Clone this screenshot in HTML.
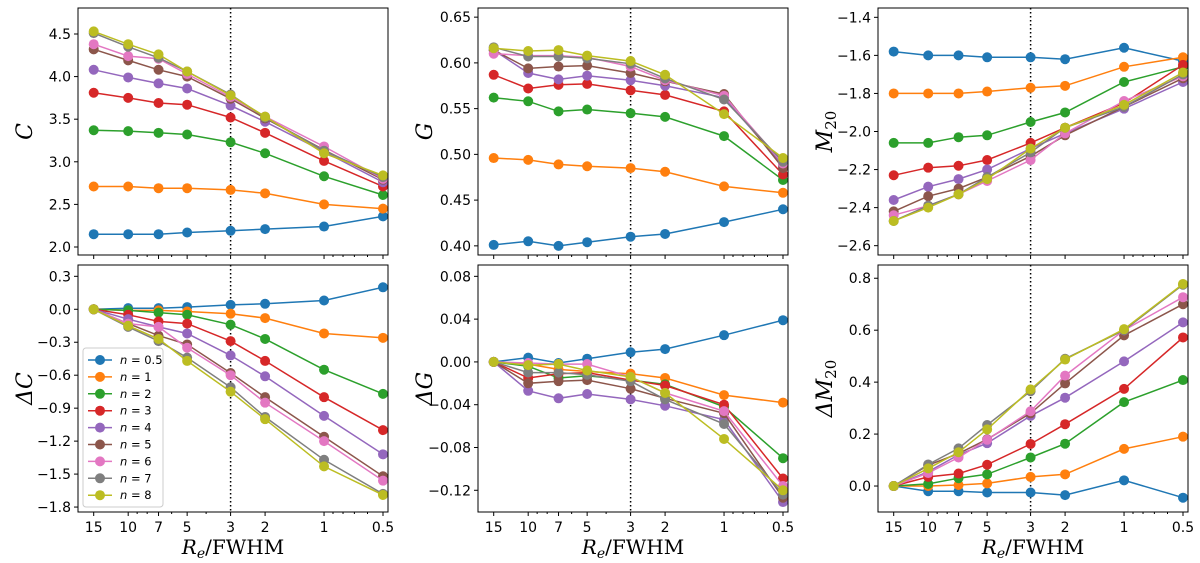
<!DOCTYPE html>
<html><head><meta charset="utf-8"><style>
body{margin:0;background:#fff;}
svg{display:block;font-family:"DejaVu Sans","Liberation Sans",sans-serif;}
.tk{font-size:14px;fill:#000;}
.tt{font-family:"DejaVu Serif","Liberation Serif",serif;font-style:italic;font-size:22px;}
</style></head><body>
<svg id="chart" width="1200" height="563" viewBox="0 0 1200 563" xmlns="http://www.w3.org/2000/svg"></svg>
<script>
const xCats=[15,10,7,5,3,2,1,0.5];
const xTickLabels=["15","10","7","5","3","2","1","0.5"];
const xMinor=[20,9,8,6,4,0.9,0.8,0.7,0.6];
const seriesNames=["0.5","1","2","3","4","5","6","7","8"];
const colors=["#1f77b4","#ff7f0e","#2ca02c","#d62728","#9467bd","#8c564b","#e377c2","#7f7f7f","#bcbd22"];
const dataC=[
[2.15,2.15,2.15,2.17,2.19,2.21,2.24,2.36],
[2.71,2.71,2.69,2.69,2.67,2.63,2.50,2.45],
[3.37,3.36,3.34,3.32,3.23,3.10,2.83,2.61],
[3.81,3.75,3.69,3.67,3.52,3.34,3.01,2.71],
[4.08,3.99,3.92,3.86,3.66,3.47,3.12,2.76],
[4.32,4.19,4.08,4.00,3.74,3.51,3.14,2.79],
[4.38,4.24,4.21,4.03,3.76,3.53,3.18,2.80],
[4.51,4.35,4.22,4.06,3.79,3.52,3.13,2.82],
[4.53,4.38,4.26,4.06,3.78,3.53,3.10,2.84]];
const dataDC=[
[0,0.01,0.01,0.02,0.04,0.05,0.08,0.20],
[0,-0.01,-0.01,-0.02,-0.04,-0.08,-0.22,-0.26],
[0,-0.01,-0.03,-0.05,-0.14,-0.27,-0.55,-0.77],
[0,-0.05,-0.11,-0.13,-0.29,-0.47,-0.80,-1.10],
[0,-0.09,-0.16,-0.22,-0.42,-0.61,-0.97,-1.32],
[0,-0.13,-0.24,-0.32,-0.58,-0.80,-1.16,-1.52],
[0,-0.13,-0.16,-0.35,-0.60,-0.85,-1.20,-1.56],
[0,-0.16,-0.29,-0.44,-0.71,-0.98,-1.37,-1.68],
[0,-0.15,-0.27,-0.47,-0.75,-1.00,-1.43,-1.69]];
const dataG=[
[0.401,0.405,0.400,0.404,0.410,0.413,0.426,0.440],
[0.496,0.494,0.489,0.487,0.485,0.481,0.465,0.458],
[0.562,0.558,0.547,0.549,0.545,0.541,0.520,0.472],
[0.587,0.572,0.576,0.577,0.570,0.565,0.547,0.478],
[0.614,0.589,0.582,0.586,0.581,0.575,0.562,0.488],
[0.614,0.594,0.596,0.597,0.589,0.580,0.566,0.485],
[0.610,0.608,0.608,0.606,0.596,0.581,0.564,0.490],
[0.617,0.607,0.607,0.605,0.599,0.583,0.560,0.492],
[0.616,0.613,0.614,0.608,0.602,0.587,0.544,0.496]];
const dataDG=[
[0,0.004,-0.001,0.003,0.009,0.012,0.025,0.039],
[0,-0.002,-0.007,-0.009,-0.011,-0.015,-0.031,-0.038],
[0,-0.004,-0.015,-0.013,-0.017,-0.021,-0.042,-0.090],
[0,-0.015,-0.011,-0.010,-0.017,-0.022,-0.040,-0.109],
[0,-0.027,-0.034,-0.030,-0.035,-0.041,-0.054,-0.131],
[0,-0.020,-0.018,-0.017,-0.025,-0.034,-0.048,-0.127],
[0,-0.001,-0.002,-0.002,-0.014,-0.029,-0.046,-0.116],
[0,-0.010,-0.010,-0.012,-0.018,-0.035,-0.058,-0.124],
[0,-0.003,-0.002,-0.008,-0.014,-0.029,-0.072,-0.120]];
const dataM=[
[-1.58,-1.60,-1.60,-1.61,-1.61,-1.62,-1.56,-1.63],
[-1.80,-1.80,-1.80,-1.79,-1.77,-1.76,-1.66,-1.61],
[-2.06,-2.06,-2.03,-2.02,-1.95,-1.90,-1.74,-1.66],
[-2.23,-2.19,-2.18,-2.15,-2.06,-1.98,-1.85,-1.65],
[-2.36,-2.29,-2.25,-2.20,-2.09,-2.01,-1.88,-1.74],
[-2.42,-2.34,-2.30,-2.24,-2.13,-2.02,-1.87,-1.72],
[-2.44,-2.39,-2.33,-2.26,-2.15,-2.01,-1.84,-1.71],
[-2.47,-2.39,-2.33,-2.24,-2.11,-1.98,-1.87,-1.70],
[-2.47,-2.40,-2.33,-2.25,-2.09,-1.98,-1.86,-1.69]];
const dataDM=[
[0,-0.02,-0.02,-0.025,-0.025,-0.035,0.022,-0.045],
[0,0,0.004,0.01,0.035,0.045,0.143,0.19],
[0,0.008,0.03,0.045,0.11,0.163,0.323,0.408],
[0,0.035,0.048,0.082,0.162,0.238,0.374,0.572],
[0,0.055,0.12,0.165,0.27,0.34,0.48,0.63],
[0,0.08,0.125,0.18,0.28,0.395,0.58,0.70],
[0,0.05,0.11,0.178,0.288,0.425,0.60,0.727],
[0,0.083,0.145,0.235,0.365,0.49,0.60,0.775],
[0,0.068,0.13,0.218,0.372,0.487,0.604,0.778]];
const ticksC=["2.0","2.5","3.0","3.5","4.0","4.5"];
const ticksDC=["0.3","0.0","-0.3","-0.6","-0.9","-1.2","-1.5","-1.8"];
const ticksG=["0.40","0.45","0.50","0.55","0.60","0.65"];
const ticksDG=["0.08","0.04","0.00","-0.04","-0.08","-0.12"];
const ticksM=["-1.4","-1.6","-1.8","-2.0","-2.2","-2.4","-2.6"];
const ticksDM=["0.0","0.2","0.4","0.6","0.8"];

const NS="http://www.w3.org/2000/svg";
const svg=document.getElementById('chart');
function mk(tag,attrs,parent){const e=document.createElementNS(NS,tag);for(const k in attrs)e.setAttribute(k,attrs[k]);(parent||svg).appendChild(e);return e;}

const panels=[
{x0:78,y0:8,y1:255,ymin:1.906,ymax:4.805,data:dataC,ticks:ticksC,title:"C",bottom:false,name:"c-panel"},
{x0:78,y0:265,y1:512,ymin:-1.845,ymax:0.403,data:dataDC,ticks:ticksDC,title:"ΔC",bottom:true,name:"delta-c-panel",legend:true},
{x0:478,y0:8,y1:255,ymin:0.390,ymax:0.660,data:dataG,ticks:ticksG,title:"G",bottom:false,name:"g-panel"},
{x0:478,y0:265,y1:512,ymin:-0.1403,ymax:0.0906,data:dataDG,ticks:ticksDG,title:"ΔG",bottom:true,name:"delta-g-panel"},
{x0:878,y0:8,y1:255,ymin:-2.649,ymax:-1.351,data:dataM,ticks:ticksM,title:"M",sub:"20",bottom:false,name:"m20-panel"},
{x0:878,y0:265,y1:512,ymin:-0.100,ymax:0.851,data:dataDM,ticks:ticksDM,title:"ΔM",sub:"20",bottom:true,name:"delta-m20-panel"}];

const L15=Math.log10(15),L05=Math.log10(0.5);
panels.forEach(p=>{
  const g=mk('g',{});
  
  
  const W=310;
  const xs=v=>p.x0+15.7+(L15-Math.log10(v))/(L15-L05)*289.3;
  const ys=v=>p.y1-(v-p.ymin)/(p.ymax-p.ymin)*(p.y1-p.y0);
  const dl=mk('line',{x1:xs(3),x2:xs(3),y1:p.y0,y2:p.y1,stroke:'#000','stroke-width':1.5,'stroke-dasharray':'1.5,2.5'},g);
  
  
  p.data.forEach((s,i)=>{
    const pts=s.map((v,j)=>xs(xCats[j]).toFixed(1)+','+ys(v).toFixed(1)).join(' ');
    const pl=mk('polyline',{points:pts,fill:'none',stroke:colors[i],'stroke-width':1.5},g);
    
    
    s.forEach((v,j)=>{
      const c=mk('circle',{cx:xs(xCats[j]),cy:ys(v),r:5,fill:colors[i]},g);
      
      
    });
  });
  const fr=mk('rect',{x:p.x0,y:p.y0,width:W,height:p.y1-p.y0,fill:'none',stroke:'#000','stroke-width':1},g);
  
  
  p.ticks.forEach(t=>{
    const v=parseFloat(t),y=ys(v);
    mk('line',{x1:p.x0-4,x2:p.x0,y1:y,y2:y,stroke:'#000'},g);
    const tx=mk('text',{x:p.x0-7,y:y+5,'text-anchor':'end',class:'tk'},g);
    tx.textContent=t.replace('-','\u2212');
    
    
  });
  xCats.forEach((v,j)=>{
    const x=xs(v);
    mk('line',{x1:x,x2:x,y1:p.y1,y2:p.y1+4,stroke:'#000'},g);
    if(p.bottom){
      const tx=mk('text',{x:x,y:p.y1+20,'text-anchor':'middle',class:'tk'},g);
      tx.textContent=xTickLabels[j];
      
      
    }
  });
  xMinor.forEach(v=>{const x=xs(v);if(x>=p.x0&&x<=p.x0+W)mk('line',{x1:x,x2:x,y1:p.y1,y2:p.y1+2,stroke:'#000'},g);});
  const yt=mk('text',{transform:`translate(${p.x0-46},${(p.y0+p.y1)/2}) rotate(-90)`,'text-anchor':'middle',class:'tt'},g);
  yt.textContent=p.title;
  if(p.sub){const ts=mk('tspan',{'font-size':'15px',dy:'4','font-style':'normal'},yt);ts.textContent=p.sub;}
  
  
  if(p.bottom){
    const xt=mk('text',{x:p.x0+W/2,y:p.y1+42,'text-anchor':'middle','font-family':'DejaVu Serif,Liberation Serif,serif','font-size':'20px'},g);
    const a=mk('tspan',{'font-style':'italic'},xt);a.textContent='R';
    const b=mk('tspan',{'font-style':'italic','font-size':'14px',dy:'4'},xt);b.textContent='e';
    const c=mk('tspan',{dy:'-4'},xt);c.textContent='/FWHM';
    
    
  }
  if(p.legend){
    const lg=mk('g',{},g);
    
    
    mk('rect',{x:83,y:348,width:80,height:159,rx:3,fill:'#fff','fill-opacity':0.85,stroke:'#ccc'},lg);
    seriesNames.forEach((n,i)=>{
      const y=360+i*16.9;
      const e=mk('g',{},lg);
      
      
      mk('line',{x1:88,x2:112,y1:y,y2:y,stroke:colors[i],'stroke-width':1.5},e);
      mk('circle',{cx:100,cy:y,r:5,fill:colors[i]},e);
      const t=mk('text',{x:120,y:y+4,'font-size':'11.5px'},e);
      const it=mk('tspan',{'font-style':'italic'},t);it.textContent='n';
      const r=mk('tspan',{},t);r.textContent=' = '+n;
    });
  }
});
</script>
</body></html>
